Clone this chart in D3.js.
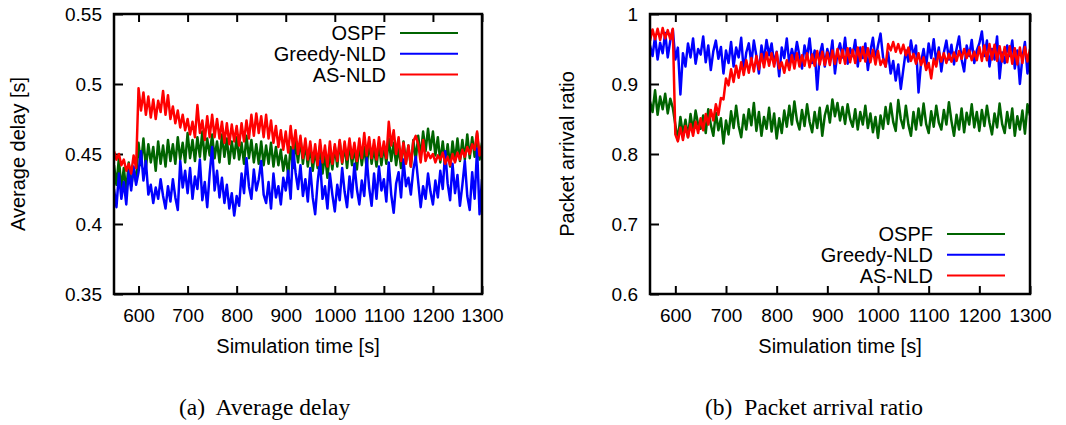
<!DOCTYPE html>
<html>
<head>
<meta charset="utf-8">
<script src="https://cdn.jsdelivr.net/npm/d3@7"></script>
<style>
  body { margin: 0; background: #fff; }
  svg { display: block; }
</style>
</head>
<body>
<div id="chart"></div>
<script>
// sampling times (s), one sample every 5 s
const times = d3.range(550, 1301, 5);

const seriesNames = ["OSPF", "Greedy-NLD", "AS-NLD"];
const seriesColors = ["#006400", "#0000ff", "#ff0000"];

const xTicks = [600, 700, 800, 900, 1000, 1100, 1200, 1300];
const delayTicks = [0.35, 0.4, 0.45, 0.5, 0.55];
const ratioTicks = [0.6, 0.7, 0.8, 0.9, 1];

// (a) average delay [s]
const delayOspf = [
  0.442, 0.428, 0.447, 0.425, 0.440, 0.423, 0.444, 0.427, 0.439, 0.430,
  0.458, 0.442, 0.461, 0.440, 0.457, 0.444, 0.455, 0.438, 0.459, 0.443,
  0.456, 0.441, 0.460, 0.445, 0.457, 0.443, 0.462, 0.446, 0.458, 0.444,
  0.465, 0.447, 0.460, 0.445, 0.462, 0.448, 0.466, 0.446, 0.461, 0.449,
  0.464, 0.447, 0.459, 0.444, 0.464, 0.448, 0.461, 0.443, 0.459, 0.447,
  0.462, 0.446, 0.458, 0.443, 0.463, 0.447, 0.460, 0.444, 0.457, 0.443,
  0.459, 0.442, 0.456, 0.443, 0.458, 0.441, 0.455, 0.442, 0.453, 0.438,
  0.449, 0.435, 0.455, 0.440, 0.459, 0.444, 0.461, 0.443, 0.458, 0.441,
  0.456, 0.438, 0.453, 0.440, 0.456, 0.436, 0.450, 0.433, 0.452, 0.439,
  0.455, 0.441, 0.459, 0.443, 0.456, 0.440, 0.458, 0.442, 0.455, 0.439,
  0.457, 0.442, 0.455, 0.440, 0.459, 0.443, 0.454, 0.441, 0.457, 0.442,
  0.456, 0.443, 0.461, 0.445, 0.458, 0.442, 0.455, 0.440, 0.459, 0.444,
  0.456, 0.441, 0.460, 0.446, 0.463, 0.448, 0.466, 0.452, 0.468, 0.453,
  0.466, 0.449, 0.462, 0.444, 0.459, 0.443, 0.457, 0.441, 0.459, 0.445,
  0.461, 0.445, 0.460, 0.446, 0.464, 0.447, 0.462, 0.448, 0.465, 0.446,
  0.458
];
const delayGreedy = [
  0.425, 0.412, 0.436, 0.418, 0.430, 0.414, 0.438, 0.424, 0.441, 0.428,
  0.437, 0.452, 0.431, 0.445, 0.421, 0.428, 0.415, 0.426, 0.418, 0.432,
  0.420, 0.411, 0.427, 0.416, 0.432, 0.419, 0.410, 0.445, 0.426, 0.438,
  0.422, 0.440, 0.418, 0.434, 0.425, 0.446, 0.417, 0.430, 0.412, 0.436,
  0.455, 0.424, 0.438, 0.419, 0.433, 0.415, 0.428, 0.411, 0.422, 0.406,
  0.420, 0.413, 0.436, 0.422, 0.447, 0.427, 0.418, 0.439, 0.424, 0.432,
  0.445, 0.421, 0.415, 0.430, 0.411, 0.436, 0.419, 0.427, 0.414, 0.433,
  0.424, 0.438, 0.418, 0.454, 0.437, 0.425, 0.442, 0.420, 0.432, 0.416,
  0.440, 0.419, 0.407, 0.430, 0.445, 0.418, 0.427, 0.411, 0.436, 0.421,
  0.409, 0.428, 0.417, 0.440, 0.423, 0.412, 0.434, 0.419, 0.443, 0.425,
  0.414, 0.431, 0.420, 0.447, 0.426, 0.413, 0.436, 0.418, 0.441, 0.424,
  0.432, 0.416, 0.444, 0.421, 0.408, 0.429, 0.437, 0.419, 0.446, 0.427,
  0.433, 0.421, 0.439, 0.448, 0.430, 0.412, 0.427, 0.418, 0.436, 0.423,
  0.414, 0.431, 0.419, 0.438, 0.425, 0.452, 0.429, 0.417, 0.443, 0.422,
  0.435, 0.413, 0.428, 0.445, 0.420, 0.410, 0.437, 0.418, 0.454, 0.407,
  0.432
];
const delayAsnld = [
  0.452, 0.446, 0.450, 0.442, 0.446, 0.438, 0.443, 0.436, 0.449, 0.440,
  0.497, 0.481, 0.494, 0.478, 0.491, 0.476, 0.489, 0.475, 0.488, 0.480,
  0.495, 0.478, 0.492, 0.475, 0.484, 0.472, 0.481, 0.469, 0.478, 0.467,
  0.475, 0.464, 0.473, 0.462, 0.485, 0.465, 0.474, 0.460, 0.477, 0.462,
  0.478, 0.462, 0.475, 0.461, 0.473, 0.458, 0.472, 0.457, 0.471, 0.459,
  0.470, 0.456, 0.472, 0.459, 0.474, 0.461, 0.478, 0.463, 0.479, 0.465,
  0.477, 0.462, 0.478, 0.461, 0.474, 0.458, 0.470, 0.455, 0.467, 0.453,
  0.466, 0.451, 0.470, 0.454, 0.467, 0.450, 0.463, 0.447, 0.461, 0.446,
  0.459, 0.444, 0.457, 0.442, 0.460, 0.444, 0.456, 0.441, 0.459, 0.443,
  0.457, 0.445, 0.460, 0.444, 0.459, 0.446, 0.461, 0.447, 0.458, 0.445,
  0.461, 0.447, 0.465, 0.449, 0.462, 0.447, 0.460, 0.446, 0.462, 0.448,
  0.459, 0.447, 0.473, 0.456, 0.467, 0.450, 0.462, 0.445, 0.458, 0.443,
  0.456, 0.441, 0.459, 0.463, 0.457, 0.444, 0.460, 0.445, 0.451, 0.447,
  0.450, 0.444, 0.449, 0.446, 0.451, 0.443, 0.448, 0.442, 0.450, 0.444,
  0.451, 0.446, 0.453, 0.448, 0.455, 0.450, 0.457, 0.453, 0.466, 0.449,
  0.456
];

// (b) packet arrival ratio
const ratioOspf = [
  0.875, 0.860, 0.891, 0.856, 0.882, 0.864, 0.886, 0.858, 0.879, 0.866,
  0.842, 0.820, 0.853, 0.828, 0.849, 0.824, 0.857, 0.833, 0.862, 0.842,
  0.836, 0.855, 0.830, 0.864, 0.842, 0.826, 0.859, 0.834, 0.851, 0.815,
  0.848, 0.828, 0.861, 0.837, 0.869, 0.840, 0.824, 0.856, 0.835, 0.864,
  0.841, 0.873, 0.833, 0.860, 0.826, 0.853, 0.836, 0.866, 0.832, 0.858,
  0.822, 0.851, 0.830, 0.862, 0.839, 0.869, 0.842, 0.875, 0.848, 0.835,
  0.863, 0.840, 0.871, 0.846, 0.831, 0.860, 0.837, 0.866, 0.826, 0.855,
  0.869, 0.845, 0.878, 0.854, 0.873, 0.848, 0.867, 0.843, 0.871, 0.850,
  0.839, 0.864, 0.835, 0.860, 0.842, 0.869, 0.837, 0.858, 0.831, 0.853,
  0.823, 0.855, 0.836, 0.867, 0.843, 0.872, 0.846, 0.833, 0.877, 0.850,
  0.837, 0.869, 0.842, 0.826, 0.860, 0.835, 0.865, 0.841, 0.872, 0.843,
  0.830, 0.861, 0.839, 0.869, 0.845, 0.835, 0.863, 0.842, 0.874, 0.847,
  0.826, 0.856, 0.835, 0.865, 0.831, 0.859, 0.842, 0.871, 0.838, 0.860,
  0.833, 0.863, 0.840, 0.869, 0.845, 0.828, 0.858, 0.838, 0.872, 0.843,
  0.830, 0.860, 0.837, 0.865, 0.826, 0.854, 0.835, 0.862, 0.829, 0.871,
  0.855
];
const ratioGreedy = [
  0.955, 0.940, 0.968, 0.935, 0.959, 0.944, 0.973, 0.938, 0.962, 0.978,
  0.935, 0.952, 0.885, 0.944, 0.925, 0.958, 0.938, 0.965, 0.929, 0.950,
  0.942, 0.968, 0.931, 0.955, 0.920, 0.947, 0.962, 0.936, 0.953, 0.915,
  0.948, 0.930, 0.960, 0.925, 0.952, 0.938, 0.966, 0.918, 0.945, 0.958,
  0.930, 0.962, 0.940, 0.915, 0.955, 0.934, 0.963, 0.941, 0.958, 0.929,
  0.946, 0.911, 0.952, 0.937, 0.965, 0.928, 0.950, 0.935, 0.960, 0.940,
  0.922, 0.955, 0.938, 0.965, 0.930, 0.948, 0.892, 0.942, 0.957, 0.925,
  0.950, 0.934, 0.962, 0.915, 0.945, 0.958, 0.938, 0.966, 0.929, 0.951,
  0.940, 0.963, 0.925, 0.952, 0.937, 0.958, 0.920, 0.947, 0.966, 0.935,
  0.955, 0.972, 0.938, 0.925, 0.945, 0.915, 0.933, 0.905, 0.928, 0.893,
  0.921, 0.948, 0.932, 0.962, 0.940, 0.955, 0.888, 0.931, 0.950, 0.925,
  0.958, 0.937, 0.964, 0.930, 0.952, 0.918, 0.945, 0.962, 0.935, 0.956,
  0.928, 0.950, 0.968, 0.935, 0.918, 0.955, 0.940, 0.963, 0.930, 0.948,
  0.958, 0.975, 0.940, 0.962, 0.925, 0.950, 0.935, 0.968, 0.908, 0.945,
  0.930, 0.955, 0.940, 0.962, 0.922, 0.948, 0.900, 0.938, 0.960, 0.915,
  0.945
];
const ratioAsnld = [
  0.962, 0.978, 0.964, 0.979, 0.963, 0.980, 0.965, 0.977, 0.964, 0.979,
  0.828, 0.818, 0.838, 0.820, 0.840, 0.824, 0.843, 0.826, 0.846, 0.830,
  0.851, 0.834, 0.857, 0.842, 0.863, 0.848, 0.871, 0.856, 0.880, 0.878,
  0.908, 0.898, 0.921, 0.903, 0.926, 0.909, 0.931, 0.913, 0.934, 0.916,
  0.937, 0.918, 0.940, 0.921, 0.943, 0.924, 0.945, 0.926, 0.944, 0.925,
  0.945, 0.922, 0.931, 0.916, 0.934, 0.920, 0.941, 0.922, 0.944, 0.925,
  0.941, 0.926, 0.944, 0.924, 0.942, 0.926, 0.947, 0.928, 0.946, 0.927,
  0.945, 0.927, 0.948, 0.929, 0.950, 0.930, 0.949, 0.929, 0.951, 0.931,
  0.949, 0.930, 0.952, 0.933, 0.953, 0.932, 0.951, 0.931, 0.949, 0.928,
  0.947, 0.927, 0.935, 0.925, 0.957, 0.948, 0.960, 0.946, 0.957, 0.944,
  0.956, 0.941, 0.952, 0.933, 0.943, 0.929, 0.944, 0.927, 0.938, 0.920,
  0.930, 0.908, 0.936, 0.925, 0.946, 0.932, 0.944, 0.930, 0.943, 0.932,
  0.945, 0.933, 0.947, 0.936, 0.950, 0.937, 0.948, 0.934, 0.946, 0.934,
  0.953, 0.933, 0.955, 0.934, 0.957, 0.935, 0.956, 0.933, 0.954, 0.932,
  0.953, 0.931, 0.954, 0.929, 0.951, 0.928, 0.952, 0.930, 0.953, 0.932,
  0.950
];

const sans = "'Liberation Sans', Arial, Helvetica, sans-serif";
const serif = "'Liberation Serif', 'Times New Roman', serif";

const svg = d3
  .select("#chart")
  .append("svg")
  .attr("width", 1066)
  .attr("height", 425);

function drawPanel(p) {
  const width = p.right - p.left,
    height = p.bottom - p.top;

  const g = svg
    .append("g")
    .attr("transform", `translate(${p.left},${p.top})`);

  const x = d3.scaleLinear().domain([550, 1300]).range([0, width]);
  const y = d3.scaleLinear().domain(p.yDomain).range([height, 0]);

  g.append("clipPath")
    .attr("id", p.id + "-clip")
    .append("rect")
    .attr("width", width)
    .attr("height", height);

  // bottom axis, ticks pointing inward
  const xAxis = g
    .append("g")
    .attr("transform", `translate(0,${height})`)
    .call(
      d3.axisBottom(x).tickValues(xTicks).tickSizeInner(-8).tickSizeOuter(0)
        .tickPadding(15).tickFormat(d3.format("d"))
    );
  // mirrored ticks on top
  const xTop = g
    .append("g")
    .call(d3.axisTop(x).tickValues(xTicks).tickSizeInner(-8).tickSizeOuter(0).tickFormat(""));
  const yAxis = g
    .append("g")
    .call(
      d3.axisLeft(y).tickValues(p.yTicks).tickSizeInner(-9).tickSizeOuter(0).tickPadding(12)
        .tickFormat(d3.format("~g"))
    );

  [xAxis, xTop, yAxis].forEach((a) => {
    a.select(".domain").remove();
    a.attr("font-family", sans).attr("font-size", 19);
    a.selectAll("line").attr("stroke", "#000").attr("stroke-width", 2);
    a.selectAll("text").attr("fill", "#000");
  });

  const line = d3
    .line()
    .x((d) => x(d[0]))
    .y((d) => y(d[1]));

  const lines = g.append("g").attr("clip-path", `url(#${p.id}-clip)`);
  p.series.forEach((vals, i) => {
    lines
      .append("path")
      .datum(times.map((t, k) => [t, vals[k]]))
      .attr("fill", "none")
      .attr("stroke", seriesColors[i])
      .attr("stroke-width", 2.5)
      .attr("stroke-linejoin", "round")
      .attr("d", line);
  });

  // frame
  g.append("rect")
    .attr("width", width)
    .attr("height", height)
    .attr("fill", "none")
    .attr("stroke", "#000")
    .attr("stroke-width", 2.5);

  // legend
  const leg = svg.append("g").attr("font-family", sans).attr("font-size", 20);
  seriesNames.forEach((name, i) => {
    const by = p.legendY + i * 20.8;
    leg
      .append("text")
      .attr("x", p.legendX)
      .attr("y", by)
      .attr("text-anchor", "end")
      .text(name);
    leg
      .append("line")
      .attr("x1", p.legendX + 14)
      .attr("x2", p.legendX + 72)
      .attr("y1", by - 7)
      .attr("y2", by - 7)
      .attr("stroke", seriesColors[i])
      .attr("stroke-width", 2);
  });

  // axis titles
  svg
    .append("text")
    .attr("font-family", sans)
    .attr("font-size", 20)
    .attr("text-anchor", "middle")
    .attr("x", (p.left + p.right) / 2)
    .attr("y", 353)
    .text("Simulation time [s]");

  svg
    .append("text")
    .attr("font-family", sans)
    .attr("font-size", 20)
    .attr("text-anchor", "middle")
    .attr("transform", `translate(${p.yTitleX},${(p.top + p.bottom) / 2}) rotate(-90)`)
    .text(p.yTitle);

  // caption
  svg
    .append("text")
    .attr("font-family", serif)
    .attr("font-size", 23.5)
    .attr("x", p.captionX)
    .attr("y", 415)
    .style("white-space", "pre")
    .text(p.caption);
}

drawPanel({
  id: "delay",
  left: 114, right: 482, top: 14, bottom: 294,
  yDomain: [0.35, 0.55],
  yTicks: delayTicks,
  series: [delayOspf, delayGreedy, delayAsnld],
  legendX: 386, legendY: 40,
  yTitle: "Average delay [s]",
  yTitleX: 25,
  caption: "(a)  Average delay",
  captionX: 179
});

drawPanel({
  id: "ratio",
  left: 650, right: 1030, top: 14, bottom: 294,
  yDomain: [0.6, 1],
  yTicks: ratioTicks,
  series: [ratioOspf, ratioGreedy, ratioAsnld],
  legendX: 933, legendY: 241,
  yTitle: "Packet arrival ratio",
  yTitleX: 574,
  caption: "(b)  Packet arrival ratio",
  captionX: 705
});
</script>
</body>
</html>
